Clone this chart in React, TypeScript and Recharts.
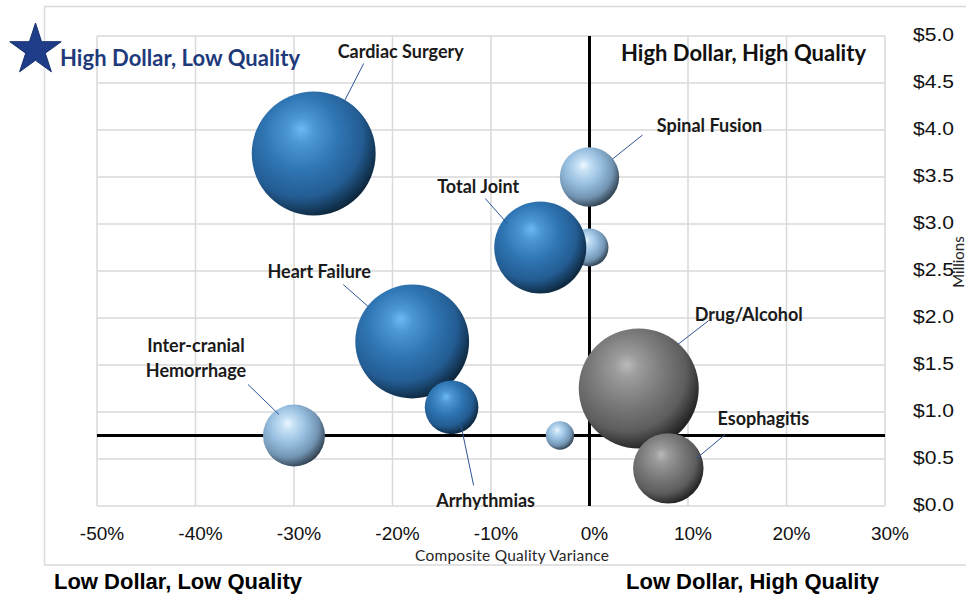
import React from 'react';
import { ScatterChart, Scatter, XAxis, YAxis, ZAxis, CartesianGrid, ReferenceLine, LabelList } from 'recharts';

// bubble data: one entry per service line (blank names are unlabeled bubbles)
const procedures = ['Cardiac Surgery', 'Spinal Fusion', '', 'Total Joint', 'Heart Failure', 'Arrhythmias', 'Inter-cranial Hemorrhage', '', 'Drug/Alcohol', 'Esophagitis'];
const qualityVariance = [-28, 0, 0, -5, -18, -14, -30, -3, 5, 8]; // %
const costMillions = [3.75, 3.5, 2.75, 2.75, 1.75, 1.05, 0.75, 0.75, 1.25, 0.4];
const caseVolume = [96, 22, 9, 53, 81, 18, 24, 5, 90, 31];

const xTicks = [-50, -40, -30, -20, -10, 0, 10, 20, 30];
const yTicks = [0, 0.5, 1, 1.5, 2, 2.5, 3, 3.5, 4, 4.5, 5];
const qualityThreshold = 0;
const costThreshold = 0.75;

// styling per bubble
const tones = ['dark', 'light', 'light', 'dark', 'dark', 'dark', 'light', 'light', 'gray', 'gray'];

// label placement relative to bubble centre: text centre + leader line (x1,y1 -> x2,y2)
const labelSpots: Array<null | { tx: number; ty: number; lead: number[]; lines?: string[] }> = [
  { tx: 87, ty: -102, lead: [50, -90, 30, -51] },
  { tx: 120, ty: -51, lead: [53, -42, 23, -18] },
  null,
  { tx: -62, ty: -61, lead: [-55, -49, -33, -24] },
  { tx: -93, ty: -70, lead: [-69, -57, -44, -35] },
  { tx: 34, ty: 94, lead: [9, 16, 22, 78] },
  { tx: -98, ty: -77, lead: [-46, -51, -15, -21], lines: ['Inter-cranial', 'Hemorrhage'] },
  null,
  { tx: 110, ty: -74, lead: [70, -68, 39, -44] },
  { tx: 95, ty: -49, lead: [57, -34, 27, -9] },
];

const data = procedures.map((name, i) => ({
  id: i,
  name,
  quality: qualityVariance[i],
  cost: costMillions[i],
  volume: caseVolume[i],
}));

const labelFont = 'Lato, "Open Sans", sans-serif';

function Sphere(props: any) {
  const { cx, cy, width, payload } = props;
  return <circle cx={cx} cy={cy} r={width / 2} fill={`url(#sphere-${tones[payload.id]})`} />;
}

function BubbleLabel(props: any) {
  const vb = props.viewBox ?? props;
  const spot = labelSpots[props.index];
  if (!spot) return null;
  const cx = vb.x + vb.width / 2;
  const cy = vb.y + vb.height / 2;
  const lines = spot.lines ?? [String(props.value)];
  const lh = 25;
  const top = cy + spot.ty - ((lines.length - 1) * lh) / 2;
  return (
    <g>
      <line
        x1={cx + spot.lead[0]}
        y1={cy + spot.lead[1]}
        x2={cx + spot.lead[2]}
        y2={cy + spot.lead[3]}
        stroke="#2F5597"
        strokeWidth={1}
      />
      {lines.map((t, k) => (
        <text
          key={k}
          x={cx + spot.tx}
          y={top + k * lh + 6}
          textAnchor="middle"
          fontFamily={labelFont}
          fontWeight={700}
          fontSize={18}
          fill="#1a1a1a"
        >
          {t}
        </text>
      ))}
    </g>
  );
}

function CostTick(props: any) {
  const { x, y, payload } = props;
  return (
    <text
      x={x}
      y={y + 4.5}
      textLength={41}
      lengthAdjust="spacingAndGlyphs"
      fontFamily='"Liberation Sans", Arial, sans-serif'
      fontSize={19}
      fill="#111"
    >
      {`$${Number(payload.value).toFixed(1)}`}
    </text>
  );
}

function AxisTitle(props: any) {
  const vb = props.viewBox;
  return (
    <text
      x={vb.x + vb.width / 2 + 21}
      y={vb.y + 55}
      textAnchor="middle"
      textLength={194}
      fontFamily={labelFont}
      fontSize={15.5}
      fill="#262626"
    >
      Composite Quality Variance
    </text>
  );
}

function starPoints(cx: number, cy: number, R: number) {
  const pts: string[] = [];
  for (let k = 0; k < 10; k++) {
    const rad = k % 2 === 0 ? R : R * 0.382;
    const a = -Math.PI / 2 + (k * Math.PI) / 5;
    pts.push(`${(cx + rad * Math.cos(a)).toFixed(1)},${(cy + rad * Math.sin(a)).toFixed(1)}`);
  }
  return pts.join(' ');
}

const gradStops: Record<string, string[]> = {
  dark: ['#6DB9F4', '#4E98D6', '#2F76B4', '#235C92', '#0B2235'],
  light: ['#EEF8FF', '#C6E1F5', '#98BFE0', '#7294B2', '#2C3B48'],
  gray: ['#BABABA', '#9C9C9C', '#7B7B7B', '#5D5D5D', '#1C1C1C'],
};
const stopOffsets = [0, 0.15, 0.45, 0.75, 1];

export default function App() {
  return (
    <div style={{ position: 'absolute', left: 0, top: 0, width: 966, height: 594, background: '#fff' }}>
      <ScatterChart width={966} height={594} margin={{ top: 36, right: 21, bottom: 28, left: 97 }}>
        <defs>
          {Object.keys(gradStops).map((k) => (
            <radialGradient key={k} id={`sphere-${k}`} cx="40%" cy="38%" r="66%" fx="40%" fy="30%">
              {gradStops[k].map((c, i) => (
                <stop key={i} offset={stopOffsets[i]} stopColor={c} />
              ))}
            </radialGradient>
          ))}
        </defs>
        <CartesianGrid stroke="#D9D9D9" strokeWidth={1.5} />
        <XAxis
          type="number"
          dataKey="quality"
          domain={[-50, 30]}
          ticks={xTicks}
          interval={0}
          tickFormatter={(v: number) => `${v}%`}
          tick={{ fontSize: 19, fill: '#111', fontFamily: '"Liberation Sans", Arial, sans-serif', dx: 5 }}
          axisLine={false}
          tickLine={false}
          tickSize={0}
          tickMargin={21}
          height={60}
          label={{ content: <AxisTitle /> }}
        />
        <YAxis
          type="number"
          dataKey="cost"
          orientation="right"
          domain={[0, 5]}
          ticks={yTicks}
          interval={0}
          tick={<CostTick />}
          axisLine={false}
          tickLine={false}
          tickSize={0}
          tickMargin={28}
          width={60}
        />
        <ZAxis type="number" dataKey="volume" domain={[0, 100]} range={[0, 12566]} />
        <ReferenceLine x={qualityThreshold} stroke="#000" strokeWidth={3} />
        <ReferenceLine y={costThreshold} stroke="#000" strokeWidth={3} />
        <Scatter data={data} shape={<Sphere />} isAnimationActive={false}>
          <LabelList dataKey="name" content={<BubbleLabel />} />
        </Scatter>
      </ScatterChart>

      <svg width={966} height={594} style={{ position: 'absolute', left: 0, top: 0, pointerEvents: 'none' }}>
        <polyline points="966,6.5 44.5,6.5 44.5,565 966,565" fill="none" stroke="#D9D9D9" strokeWidth={1.5} />
        <polygon points={starPoints(35.5, 50, 27)} fill="#1F3C88" stroke="#17306E" strokeWidth={1} />
        <text x={60} y={66} textLength={240} fontFamily={labelFont} fontWeight={700} fontSize={22} fill="#1F3A7A">
          High Dollar, Low Quality
        </text>
        <text x={621} y={61} textLength={245} fontFamily={labelFont} fontWeight={700} fontSize={22} fill="#111">
          High Dollar, High Quality
        </text>
        <text x={54} y={589} textLength={248} fontFamily='"Liberation Sans Narrow", "Liberation Sans", Arial, sans-serif' fontWeight={700} fontSize={22} fill="#000">
          Low Dollar, Low Quality
        </text>
        <text x={626} y={589} textLength={253} fontFamily='"Liberation Sans Narrow", "Liberation Sans", Arial, sans-serif' fontWeight={700} fontSize={22} fill="#000">
          Low Dollar, High Quality
        </text>
        <text x={964} y={262} transform="rotate(-90 964 262)" textAnchor="middle" fontFamily={labelFont} fontSize={15} fill="#262626">
          Millions
        </text>
      </svg>
    </div>
  );
}
